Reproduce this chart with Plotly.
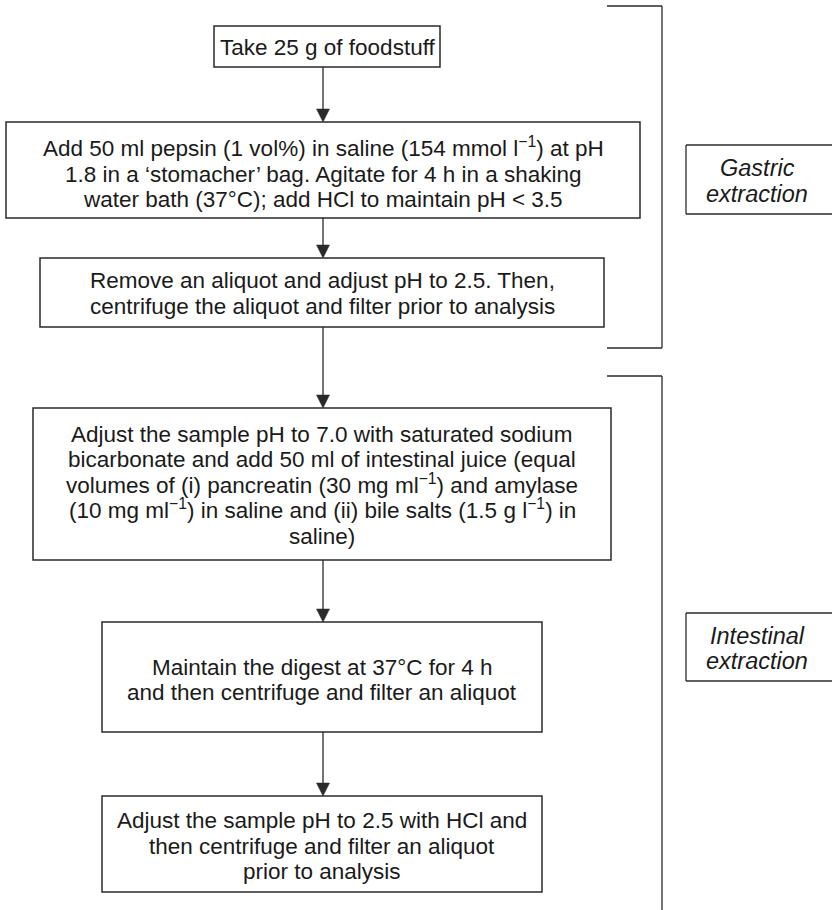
import plotly.graph_objects as go

# ---- content ----
steps = [
    ["Take 25 g of foodstuff"],
    ["Add 50 ml pepsin (1 vol%) in saline (154 mmol l<sup>−1</sup>) at pH",
     "1.8 in a ‘stomacher’ bag. Agitate for 4 h in a shaking",
     "water bath (37°C); add HCl to maintain pH &lt; 3.5"],
    ["Remove an aliquot and adjust pH to 2.5. Then,",
     "centrifuge the aliquot and filter prior to analysis"],
    ["Adjust the sample pH to 7.0 with saturated sodium",
     "bicarbonate and add 50 ml of intestinal juice (equal",
     "volumes of (i) pancreatin (30 mg ml<sup>−1</sup>) and amylase",
     "(10 mg ml<sup>−1</sup>) in saline and (ii) bile salts (1.5 g l<sup>−1</sup>) in",
     "saline)"],
    ["Maintain the digest at 37°C for 4 h",
     "and then centrifuge and filter an aliquot"],
    ["Adjust the sample pH to 2.5 with HCl and",
     "then centrifuge and filter an aliquot",
     "prior to analysis"],
]
stage_labels = [["Gastric", "extraction"], ["Intestinal", "extraction"]]

# ---- layout (pixel coordinates of the page) ----
box_x0 = [214, 6, 40, 33, 102, 102]
box_x1 = [440, 640, 604, 611, 542, 542]
box_y0 = [26, 122, 258, 408, 622, 796]
box_y1 = [67, 218, 327, 560, 732, 892]
text_dy = [0, 3, 0, 0, 2, 1]
arrow_x = 323

bracket_top = [6, 376]
bracket_bottom = [348, 935]
bracket_x0, bracket_x1 = 607, 662

label_x0, label_x1 = 686, 832
label_y0 = [145, 613]
label_y1 = [214, 681]
label_cx = 757

W, H = 832, 910
LINE_GAP = 25.5
FS = 22.5
FS_LABEL = 23.5
LINE = "#2a2a2a"
TEXT = "#1a1a1a"
FONT = "Liberation Sans, Arial, Helvetica, sans-serif"

fig = go.Figure()
shapes = []
annotations = []


def seg(x0, y0, x1, y1, width=1.3):
    shapes.append(dict(type="line", xref="x", yref="y", x0=x0, x1=x1, y0=y0, y1=y1,
                       line=dict(color=LINE, width=width)))


def add_lines(lines, cx, cy, italic=False, size=FS):
    n = len(lines)
    for k, ln in enumerate(lines):
        yk = cy + (k - (n - 1) / 2) * LINE_GAP
        txt = f"<i>{ln}</i>" if italic else ln
        annotations.append(dict(x=cx, y=yk + 0.65 * size, xref="x", yref="y", text=txt,
                                showarrow=False, font=dict(family=FONT, size=size, color=TEXT),
                                align="center", xanchor="center", yanchor="bottom",
                                borderpad=0))


for i, lines in enumerate(steps):
    shapes.append(dict(type="rect", xref="x", yref="y",
                       x0=box_x0[i], x1=box_x1[i], y0=box_y0[i], y1=box_y1[i],
                       line=dict(color=LINE, width=1.5), fillcolor="white", layer="below"))
    add_lines(lines, (box_x0[i] + box_x1[i]) / 2, (box_y0[i] + box_y1[i]) / 2 + text_dy[i])

# arrows between consecutive boxes
for i in range(len(steps) - 1):
    y_start = box_y1[i]
    y_end = box_y0[i + 1]
    seg(arrow_x, y_start, arrow_x, y_end - 10)
    shapes.append(dict(type="path", xref="x", yref="y",
                       path=f"M {arrow_x-6.5},{y_end-13} L {arrow_x+6.5},{y_end-13} L {arrow_x},{y_end} Z",
                       fillcolor=LINE, line=dict(color=LINE, width=0.5)))

# brackets
for t, b in zip(bracket_top, bracket_bottom):
    seg(bracket_x0, t, bracket_x1, t)
    seg(bracket_x1, t, bracket_x1, min(b, H + 2))
    if b <= H:
        seg(bracket_x0, b, bracket_x1, b)

# stage labels (boxes run off the right edge of the page)
for i, lab in enumerate(stage_labels):
    seg(label_x0, label_y0[i], label_x1, label_y0[i])
    seg(label_x0, label_y1[i], label_x1, label_y1[i])
    seg(label_x0, label_y0[i], label_x0, label_y1[i])
    add_lines(lab, label_cx, (label_y0[i] + label_y1[i]) / 2, italic=True, size=FS_LABEL)

fig.update_layout(
    width=W, height=H,
    margin=dict(l=0, r=0, t=0, b=0),
    paper_bgcolor="white", plot_bgcolor="white",
    xaxis=dict(range=[0, W], visible=False, fixedrange=True),
    yaxis=dict(range=[H, 0], visible=False, fixedrange=True),
    shapes=shapes, annotations=annotations,
    showlegend=False,
)

fig.write_html("out.html",
               config={"displayModeBar": False},
               post_script="document.body.style.margin='0px';document.body.style.overflow='hidden';")
